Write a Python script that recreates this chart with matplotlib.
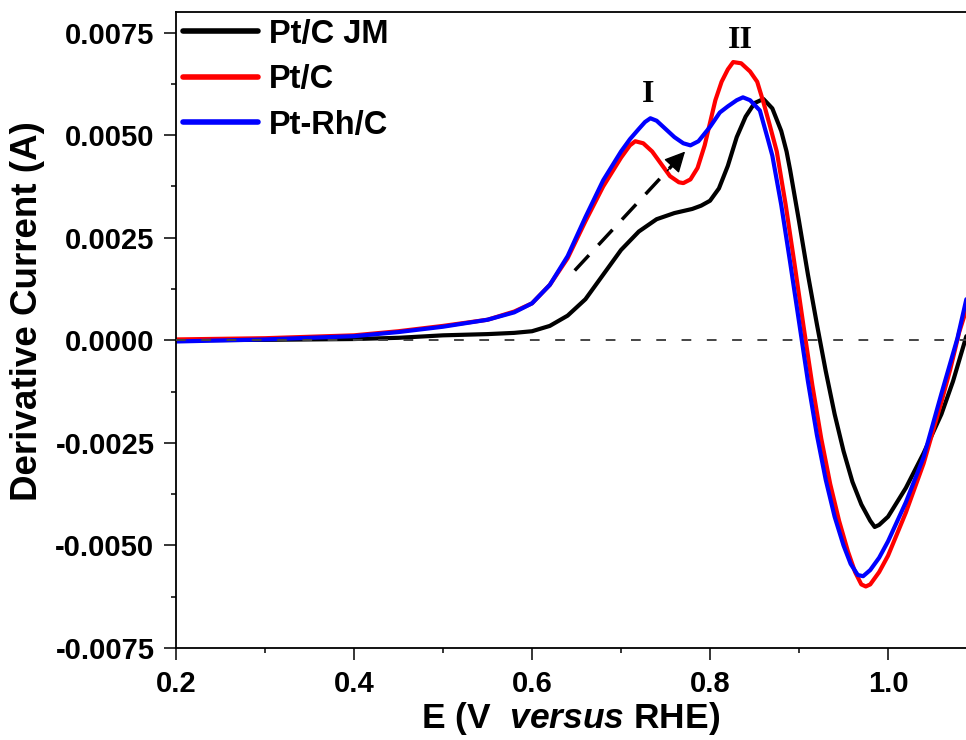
import numpy as np
import matplotlib
matplotlib.use('Agg')
import matplotlib.pyplot as plt
from matplotlib.ticker import MultipleLocator, FormatStrFormatter

plt.rcParams['font.family'] = ['Liberation Sans', 'DejaVu Sans']
plt.rcParams['font.weight'] = 'bold'
plt.rcParams['mathtext.fontset'] = 'custom'
plt.rcParams['mathtext.bfit'] = 'Liberation Sans:italic:bold'
plt.rcParams['mathtext.rm'] = 'Liberation Sans:bold'

# Pt/C JM (black), current in mA
x_jm = [0.20, 0.30, 0.40, 0.45, 0.50, 0.55, 0.58, 0.60, 0.62, 0.64, 0.66, 0.68, 0.70, 0.72, 0.74,
        0.76, 0.78, 0.79, 0.80, 0.81, 0.82, 0.83, 0.84, 0.85, 0.86, 0.87, 0.88, 0.886, 0.89, 0.90,
        0.91, 0.92, 0.93, 0.94, 0.95, 0.96, 0.97, 0.98, 0.985, 0.99, 1.00, 1.02, 1.04, 1.06, 1.073,
        1.088]
y_jm = [0.00, 0.01, 0.03, 0.06, 0.12, 0.15, 0.18, 0.22, 0.35, 0.60, 1.00, 1.60, 2.20, 2.65, 2.95,
        3.10, 3.20, 3.28, 3.40, 3.70, 4.25, 4.95, 5.45, 5.78, 5.88, 5.65, 5.10, 4.60, 4.15, 2.90,
        1.60, 0.40, -0.75, -1.80, -2.70, -3.45, -4.00, -4.40, -4.55, -4.50, -4.30, -3.60, -2.75,
        -1.80, -1.00, 0.10]

# Pt/C (red)
x_ptc = [0.20, 0.30, 0.40, 0.45, 0.50, 0.55, 0.58, 0.60, 0.62, 0.64, 0.66, 0.68, 0.70, 0.71, 0.716,
         0.725, 0.735, 0.745, 0.755, 0.765, 0.77, 0.778, 0.786, 0.794, 0.80, 0.806, 0.813, 0.82,
         0.826, 0.835, 0.845, 0.853, 0.86, 0.867, 0.875, 0.885, 0.895, 0.905, 0.915, 0.925, 0.935,
         0.945, 0.955, 0.963, 0.97, 0.975, 0.98, 0.99, 1.00, 1.02, 1.04, 1.06, 1.07, 1.08, 1.088]
y_ptc = [0.02, 0.05, 0.12, 0.22, 0.35, 0.50, 0.70, 0.90, 1.35, 2.00, 2.90, 3.75, 4.45, 4.75, 4.85,
         4.80, 4.60, 4.30, 4.00, 3.85, 3.83, 3.92, 4.20, 4.75, 5.30, 5.85, 6.30, 6.60,
         6.78, 6.75, 6.55, 6.30, 5.80, 5.25, 4.60, 3.30, 1.85, 0.35, -1.10, -2.40, -3.50,
         -4.40, -5.15, -5.65, -5.95, -6.00, -5.95, -5.65, -5.25, -4.20, -3.00, -1.50, -0.70, 0.20, 0.75]

# Pt-Rh/C (blue)
x_ptrh = [0.20, 0.30, 0.40, 0.45, 0.50, 0.55, 0.58, 0.60, 0.62, 0.64, 0.66, 0.68, 0.70, 0.71, 0.72,
          0.727, 0.733, 0.74, 0.75, 0.76, 0.77, 0.778, 0.787, 0.80, 0.811, 0.82, 0.83, 0.837, 0.845,
          0.856, 0.865, 0.87, 0.88, 0.89, 0.90, 0.91, 0.92, 0.93, 0.94, 0.95, 0.958, 0.966, 0.972,
          0.98, 0.99, 1.00, 1.02, 1.04, 1.06, 1.07, 1.078, 1.088]
y_ptrh = [-0.03, 0.02, 0.10, 0.20, 0.33, 0.50, 0.68, 0.90, 1.35, 2.05, 3.00, 3.90, 4.60, 4.90, 5.15,
          5.32, 5.41, 5.35, 5.15, 4.95, 4.80, 4.75, 4.85, 5.20, 5.55, 5.70, 5.85, 5.92, 5.85,
          5.60, 4.90, 4.50, 3.30, 1.90, 0.45, -1.00, -2.30, -3.40, -4.30, -5.00, -5.45, -5.72, -5.75,
          -5.60, -5.30, -4.90, -3.95, -2.85, -1.30, -0.55, 0.05, 1.00]

labels = ['Pt/C JM', 'Pt/C', 'Pt-Rh/C']
colors = ['black', '#ff0000', '#0000ff']

ARROW_TAIL = (0.648, 0.0017)
ARROW_TIP = (0.772, 0.0046)
PEAK_I = (0.730, 0.0060)
PEAK_II = (0.834, 0.0073)

fig = plt.figure(figsize=(9.66, 7.40), dpi=100)
ax = fig.add_axes([0.1822, 0.1243, 0.8178, 0.8595])

for xs, ys, lab, col in zip([x_jm, x_ptc, x_ptrh], [y_jm, y_ptc, y_ptrh], labels, colors):
    ax.plot(xs, np.array(ys) * 1e-3, color=col, lw=3.0, label=lab,
            solid_joinstyle='round', solid_capstyle='round')

ax.axhline(0, color='#444444', lw=1.4, ls=(0, (5, 8)), zorder=5)

# dashed arrow towards peak I
ax.plot([ARROW_TAIL[0], ARROW_TIP[0] - 0.012], [ARROW_TAIL[1], ARROW_TIP[1] - 0.00028],
        color='black', lw=2.5, ls=(0, (6, 4)), zorder=6)
ax.annotate('', xy=ARROW_TIP, xytext=(ARROW_TIP[0] - 0.02, ARROW_TIP[1] - 0.00047),
            arrowprops=dict(arrowstyle='-|>', color='black', lw=1, mutation_scale=32,
                            shrinkA=0, shrinkB=0), zorder=6)

ax.text(PEAK_I[0], PEAK_I[1], 'I', family='Liberation Serif', fontsize=23, fontweight='bold',
        ha='center', va='center')
ax.text(PEAK_II[0], PEAK_II[1], 'II', family='Liberation Serif', fontsize=23, fontweight='bold',
        ha='center', va='center')

ax.set_xlim(0.2, 1.0876)
ax.set_ylim(-0.0075, 0.0080)
ax.xaxis.set_major_locator(MultipleLocator(0.2))
ax.xaxis.set_minor_locator(MultipleLocator(0.1))
ax.yaxis.set_major_locator(MultipleLocator(0.0025))
ax.yaxis.set_minor_locator(MultipleLocator(0.00125))
ax.xaxis.set_major_formatter(FormatStrFormatter('%.1f'))
ax.yaxis.set_major_formatter(FormatStrFormatter('%.4f'))

ax.spines['right'].set_visible(False)
for s in ['left', 'bottom', 'top']:
    ax.spines[s].set_linewidth(1.3)
ax.tick_params(which='major', direction='out', length=8.5, width=1.1, labelsize=21, pad=7)
ax.tick_params(which='minor', direction='out', length=3.6, width=1.1)
ax.tick_params(top=False, right=False, which='both')

ax.set_xlabel(r'E (V  $\mathbfit{versus}$ RHE)', fontsize=25.5, fontweight='bold', labelpad=2)
ax.set_ylabel('Derivative Current (A)', fontsize=26.5, fontweight='bold')
ax.yaxis.set_label_coords(-0.166, 0.530)

leg = ax.legend(loc='upper left', bbox_to_anchor=(0.0, 1.0), frameon=False, fontsize=23.5,
                handlelength=2.3, handletextpad=0.35, labelspacing=0.45, borderaxespad=0.05,
                borderpad=0.15)
for line in leg.get_lines():
    line.set_linewidth(4.0)

fig.savefig('out.png', dpi=100)
